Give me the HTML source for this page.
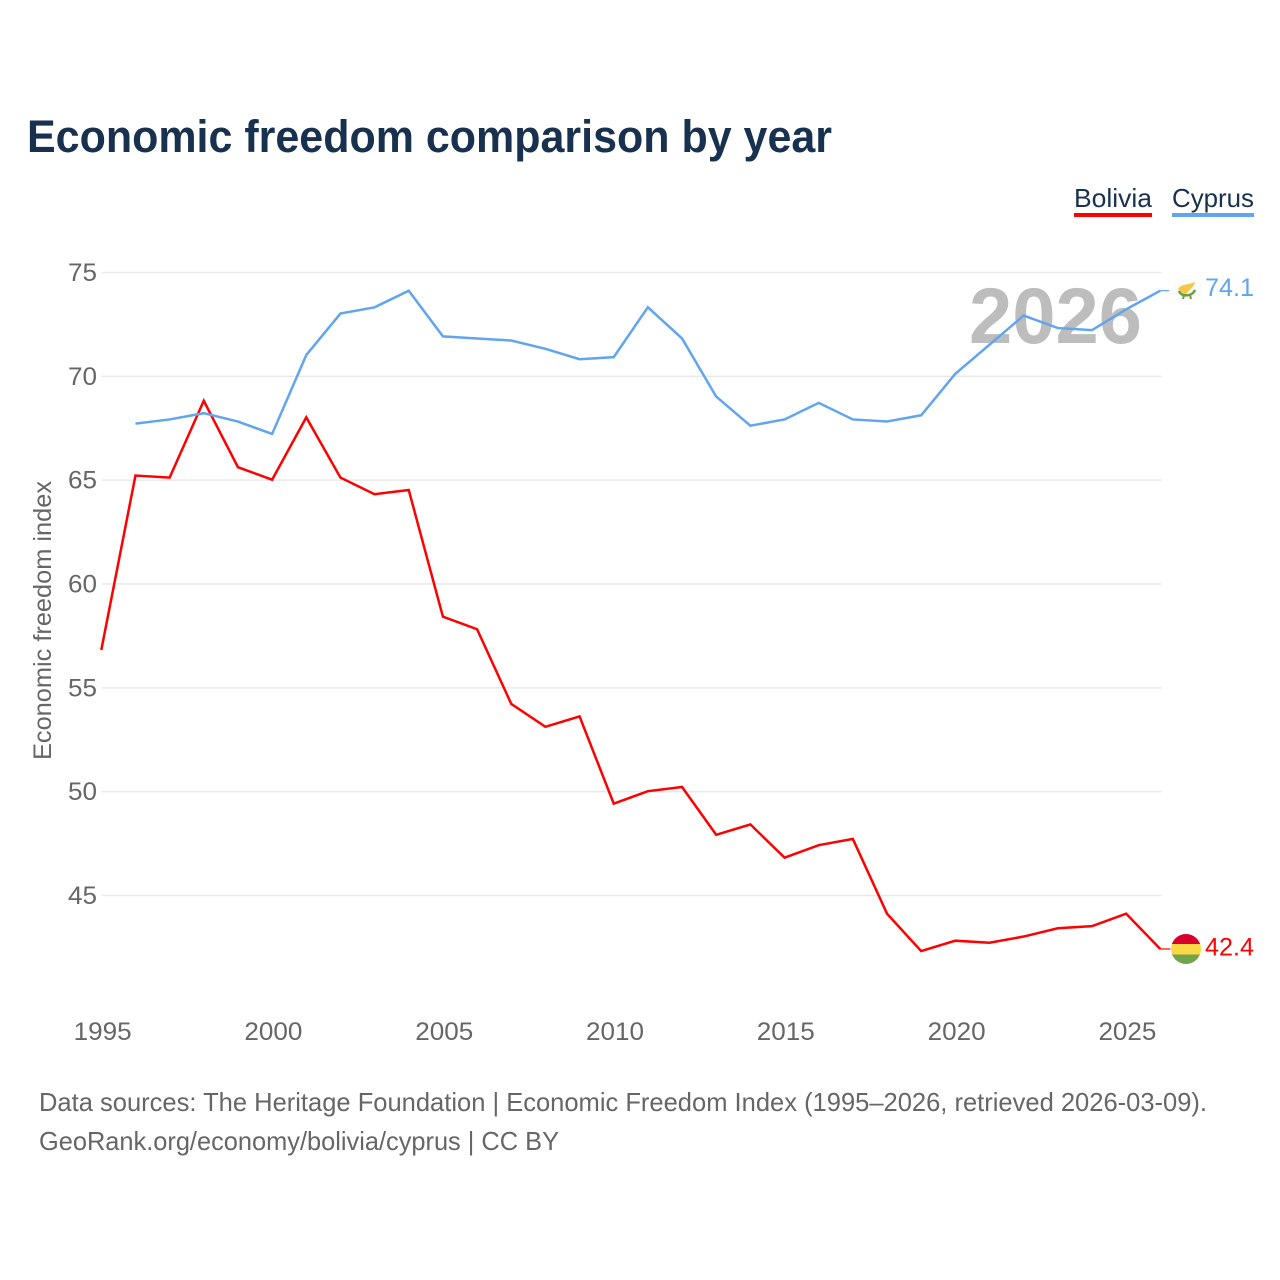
<!DOCTYPE html>
<html>
<head>
<meta charset="utf-8">
<style>
html,body{margin:0;padding:0;background:#fff;}
svg{display:block;}
text{font-family:"Liberation Sans",sans-serif;}
</style>
</head>
<body>
<svg id="chart" width="1280" height="1280" viewBox="0 0 1280 1280" xmlns="http://www.w3.org/2000/svg">
  <text x="27" y="152" font-size="45" font-weight="700" fill="#18314f" textLength="805" lengthAdjust="spacingAndGlyphs">Economic freedom comparison by year</text>
  <g>
    <g>
      <text x="1074" y="207" font-size="26" fill="#18314f" textLength="78" lengthAdjust="spacingAndGlyphs">Bolivia</text>
      <rect x="1074" y="213" width="78" height="4" fill="#ff0000"/>
    </g>
    <g>
      <text x="1172" y="207" font-size="26" fill="#18314f" textLength="82" lengthAdjust="spacingAndGlyphs">Cyprus</text>
      <rect x="1172" y="213" width="82" height="4" fill="#60a5ee"/>
    </g>
  </g>
  <g id="grid"></g>
  <g id="yticks"></g>
  <g id="xticks"></g>
  <text transform="translate(51,760) rotate(-90)" font-size="25" fill="#666666" textLength="279" lengthAdjust="spacingAndGlyphs">Economic freedom index</text>
  <text x="969" y="343" font-size="79" font-weight="700" fill="#bdbdbd" textLength="173" lengthAdjust="spacingAndGlyphs">2026</text>
  <g id="series" transform="translate(-0.7,-0.5)"></g>
  <g>
    <circle cx="1187" cy="290" r="15" fill="#fcfcfc"/>
    <path d="M1178 289 C1181 284 1188 285 1195 282 C1194 288 1188 290 1186 295 C1183 292 1180 292 1178 289Z" fill="#f6c84a"/>
    <path d="M1179 291 C1181 297 1192 297 1195 290" fill="none" stroke="#6f9c3d" stroke-width="2.5"/>
    <path d="M1184 295 L1183 299 M1190 295 L1191 299" fill="none" stroke="#6f9c3d" stroke-width="2"/>
  </g>
  <g>
    <clipPath id="bo-clip"><circle cx="1186" cy="949" r="15"/></clipPath>
    <g clip-path="url(#bo-clip)">
      <rect x="1171" y="934" width="30" height="10" fill="#d8002c"/>
      <rect x="1171" y="944" width="30" height="10.5" fill="#fcd846"/>
      <rect x="1171" y="954.5" width="30" height="10" fill="#73a34b"/>
    </g>
  </g>
  <g id="endlabels"></g>
  <text x="39" y="1111" font-size="26" fill="#666666" textLength="1168" lengthAdjust="spacingAndGlyphs">Data sources: The Heritage Foundation | Economic Freedom Index (1995–2026, retrieved 2026-03-09).</text>
  <text x="39" y="1150" font-size="26" fill="#666666" textLength="520" lengthAdjust="spacingAndGlyphs">GeoRank.org/economy/bolivia/cyprus | CC BY</text>
</svg>
<script>
var yTickValues = [45, 50, 55, 60, 65, 70, 75];
var xTickValues = [1995, 2000, 2005, 2010, 2015, 2020, 2025];
var boliviaYears = [1995,1996,1997,1998,1999,2000,2001,2002,2003,2004,2005,2006,2007,2008,2009,2010,2011,2012,2013,2014,2015,2016,2017,2018,2019,2020,2021,2022,2023,2024,2025,2026];
var boliviaValues = [56.8,65.2,65.1,68.8,65.6,65.0,68.0,65.1,64.3,64.5,58.4,57.8,54.2,53.1,53.6,49.4,50.0,50.2,47.9,48.4,46.8,47.4,47.7,44.1,42.3,42.8,42.7,43.0,43.4,43.5,44.1,42.4];
var cyprusYears = [1996,1997,1998,1999,2000,2001,2002,2003,2004,2005,2006,2007,2008,2009,2010,2011,2012,2013,2014,2015,2016,2017,2018,2019,2020,2021,2022,2023,2024,2025,2026];
var cyprusValues = [67.7,67.9,68.2,67.8,67.2,71.0,73.0,73.3,74.1,71.9,71.8,71.7,71.3,70.8,70.9,73.3,71.8,69.0,67.6,67.9,68.7,67.9,67.8,68.1,70.1,71.5,72.9,72.3,72.2,73.2,74.1];

var NS = 'http://www.w3.org/2000/svg';
function xScale(year) { return 102 + (year - 1995) * (1161 - 102) / 31; }
function yScale(v) { return 272.5 + (75 - v) * (895.5 - 272.5) / 30; }
function make(tag, attrs, parent) {
  var el = document.createElementNS(NS, tag);
  for (var k in attrs) el.setAttribute(k, attrs[k]);
  parent.appendChild(el);
  return el;
}

var grid = document.getElementById('grid');
var yticks = document.getElementById('yticks');
yTickValues.forEach(function (v) {
  var line = make('line', {x1: 102, x2: 1161.5, y1: yScale(v), y2: yScale(v), stroke: '#e9e9e9', 'stroke-width': 1.5}, grid);
  
  
  var t = make('text', {x: 97, y: yScale(v) + 8.5, 'text-anchor': 'end', 'font-size': 25, fill: '#666666', textLength: 29, lengthAdjust: 'spacingAndGlyphs'}, yticks);
  t.textContent = v;
  
  
});

var xticks = document.getElementById('xticks');
xTickValues.forEach(function (y) {
  var t = make('text', {x: xScale(y) + 0.6, y: 1040, 'text-anchor': 'middle', 'font-size': 25, fill: '#666666', textLength: 58, lengthAdjust: 'spacingAndGlyphs'}, xticks);
  t.textContent = y;
  
  
});

function pointsFor(years, values) {
  return years.map(function (y, i) { return xScale(y).toFixed(2) + ',' + yScale(values[i]).toFixed(2); }).join(' ');
}
var series = document.getElementById('series');
var boliviaLine = make('polyline', {points: pointsFor(boliviaYears, boliviaValues), fill: 'none', stroke: '#ff0000', 'stroke-width': 2.5, 'stroke-linejoin': 'miter'}, series);


var cyprusLine = make('polyline', {points: pointsFor(cyprusYears, cyprusValues), fill: 'none', stroke: '#60a5ee', 'stroke-width': 2.5, 'stroke-linejoin': 'miter'}, series);



var lastB = boliviaValues[boliviaValues.length - 1];
var lastC = cyprusValues[cyprusValues.length - 1];
var boliviaConn = make('line', {x1: 1161, x2: 1171, y1: yScale(lastB), y2: yScale(lastB), stroke: '#ff0000', 'stroke-width': 1.2}, series);


var cyprusConn = make('line', {x1: 1161, x2: 1170, y1: yScale(lastC), y2: yScale(lastC), stroke: '#60a5ee', 'stroke-width': 1.2}, series);



var endlabels = document.getElementById('endlabels');
var labelB = make('text', {x: 1205, y: yScale(lastB) + 6, 'font-size': 25, fill: '#ff0000', textLength: 49, lengthAdjust: 'spacingAndGlyphs'}, endlabels);
labelB.textContent = lastB.toFixed(1);


var labelC = make('text', {x: 1205, y: yScale(lastC) + 5, 'font-size': 25, fill: '#60a5ee', textLength: 49, lengthAdjust: 'spacingAndGlyphs'}, endlabels);
labelC.textContent = lastC.toFixed(1);


</script>
</body>
</html>
